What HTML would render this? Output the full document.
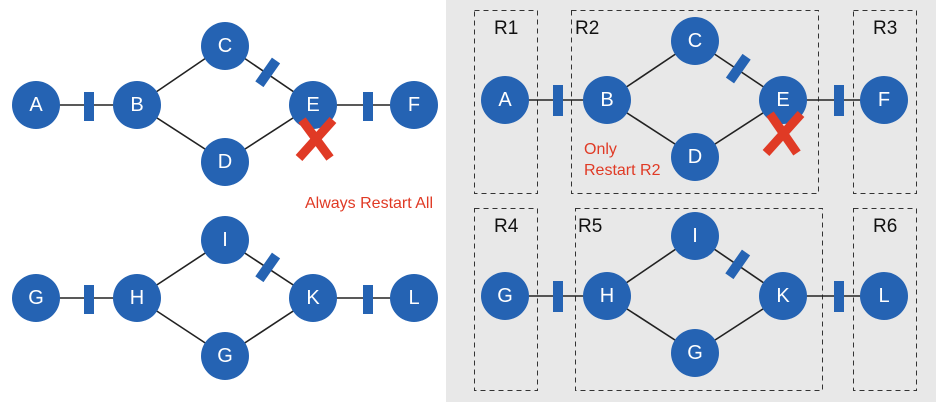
<!DOCTYPE html>
<html><head><meta charset="utf-8"><style>
html,body{margin:0;padding:0;background:#fff}
svg{display:block}
text{font-family:"Liberation Sans",sans-serif}
.n{fill:#2563b3}
.t{fill:#fff;font-size:20px;text-anchor:middle;dominant-baseline:central}
.l{stroke:#222;stroke-width:1.6}
.b{fill:#2563b3}
.box{fill:none;stroke:#333;stroke-width:1;stroke-dasharray:5,4}
.r{font-size:19px;fill:#111}
.red{fill:#e03a25;font-size:16px}
</style></head><body>
<svg width="936" height="402" viewBox="0 0 936 402">
<rect x="446" y="0" width="490" height="402" fill="#e8e8e8"/>

<!-- left top -->
<g>
<line class="l" x1="36" y1="105" x2="137" y2="105"/>
<line class="l" x1="313" y1="105" x2="414" y2="105"/>
<line class="l" x1="137" y1="105" x2="225" y2="45"/>
<line class="l" x1="225" y1="45" x2="313" y2="105"/>
<line class="l" x1="137" y1="105" x2="225" y2="162"/>
<line class="l" x1="225" y1="162" x2="313" y2="105"/>
<rect class="b" x="84" y="92" width="10" height="29"/>
<rect class="b" x="363" y="92" width="10" height="29"/>
<rect class="b" x="263" y="58" width="10" height="29" transform="rotate(35 268 72)"/>
<circle class="n" cx="36" cy="105" r="24"/><text class="t" x="36" y="105">A</text>
<circle class="n" cx="137" cy="105" r="24"/><text class="t" x="137" y="105">B</text>
<circle class="n" cx="225" cy="46" r="24"/><text class="t" x="225" y="46">C</text>
<circle class="n" cx="225" cy="162" r="24"/><text class="t" x="225" y="162">D</text>
<circle class="n" cx="313" cy="105" r="24"/><text class="t" x="313" y="105">E</text>
<circle class="n" cx="414" cy="105" r="24"/><text class="t" x="414" y="105">F</text>
<path d="M302 120 L330 158 M333 120 L299 158" stroke="#e03a25" stroke-width="9"/>
<text class="red" x="305" y="208">Always Restart All</text>
</g>

<!-- left bottom -->
<g>
<line class="l" x1="36" y1="298" x2="137" y2="298"/>
<line class="l" x1="313" y1="298" x2="414" y2="298"/>
<line class="l" x1="137" y1="298" x2="225" y2="240"/>
<line class="l" x1="225" y1="240" x2="313" y2="298"/>
<line class="l" x1="137" y1="298" x2="225" y2="356"/>
<line class="l" x1="225" y1="356" x2="313" y2="298"/>
<rect class="b" x="84" y="285" width="10" height="29"/>
<rect class="b" x="363" y="285" width="10" height="29"/>
<rect class="b" x="263" y="253" width="10" height="29" transform="rotate(35 268 267)"/>
<circle class="n" cx="36" cy="298" r="24"/><text class="t" x="36" y="298">G</text>
<circle class="n" cx="137" cy="298" r="24"/><text class="t" x="137" y="298">H</text>
<circle class="n" cx="225" cy="240" r="24"/><text class="t" x="225" y="240">I</text>
<circle class="n" cx="225" cy="356" r="24"/><text class="t" x="225" y="356">G</text>
<circle class="n" cx="313" cy="298" r="24"/><text class="t" x="313" y="298">K</text>
<circle class="n" cx="414" cy="298" r="24"/><text class="t" x="414" y="298">L</text>
</g>

<!-- right top -->
<g>
<rect class="box" x="474.5" y="10.5" width="63" height="183"/>
<rect class="box" x="571.5" y="10.5" width="247" height="183"/>
<rect class="box" x="853.5" y="10.5" width="63" height="183"/>
<text class="r" x="494" y="34">R1</text>
<text class="r" x="575" y="34">R2</text>
<text class="r" x="873" y="34">R3</text>
<line class="l" x1="505" y1="100" x2="607" y2="100"/>
<line class="l" x1="783" y1="100" x2="884" y2="100"/>
<line class="l" x1="607" y1="100" x2="695" y2="41"/>
<line class="l" x1="695" y1="41" x2="783" y2="100"/>
<line class="l" x1="607" y1="100" x2="695" y2="157"/>
<line class="l" x1="695" y1="157" x2="783" y2="100"/>
<rect class="b" x="553" y="85" width="10" height="31"/>
<rect class="b" x="834" y="85" width="10" height="31"/>
<rect class="b" x="733" y="54" width="10" height="29" transform="rotate(35 738 69)"/>
<circle class="n" cx="505" cy="100" r="24"/><text class="t" x="505" y="100">A</text>
<circle class="n" cx="607" cy="100" r="24"/><text class="t" x="607" y="100">B</text>
<circle class="n" cx="695" cy="41" r="24"/><text class="t" x="695" y="41">C</text>
<circle class="n" cx="695" cy="157" r="24"/><text class="t" x="695" y="157">D</text>
<circle class="n" cx="783" cy="100" r="24"/><text class="t" x="783" y="100">E</text>
<circle class="n" cx="884" cy="100" r="24"/><text class="t" x="884" y="100">F</text>
<path d="M770 114 L797 153 M801 114 L766 153" stroke="#e03a25" stroke-width="9"/>
<text class="red" x="584" y="154">Only</text>
<text class="red" x="584" y="175">Restart R2</text>
</g>

<!-- right bottom -->
<g>
<rect class="box" x="474.5" y="208.5" width="63" height="182"/>
<rect class="box" x="575.5" y="208.5" width="247" height="182"/>
<rect class="box" x="853.5" y="208.5" width="63" height="182"/>
<text class="r" x="494" y="232">R4</text>
<text class="r" x="578" y="232">R5</text>
<text class="r" x="873" y="232">R6</text>
<line class="l" x1="505" y1="296" x2="607" y2="296"/>
<line class="l" x1="783" y1="296" x2="884" y2="296"/>
<line class="l" x1="607" y1="296" x2="695" y2="236"/>
<line class="l" x1="695" y1="236" x2="783" y2="296" stroke="#666"/>
<line class="l" x1="607" y1="296" x2="695" y2="353"/>
<line class="l" x1="695" y1="353" x2="783" y2="296"/>
<rect class="b" x="553" y="281" width="10" height="31"/>
<rect class="b" x="834" y="281" width="10" height="31"/>
<rect class="b" x="733" y="250" width="10" height="29" transform="rotate(35 738 264)"/>
<circle class="n" cx="505" cy="296" r="24"/><text class="t" x="505" y="296">G</text>
<circle class="n" cx="607" cy="296" r="24"/><text class="t" x="607" y="296">H</text>
<circle class="n" cx="695" cy="236" r="24"/><text class="t" x="695" y="236">I</text>
<circle class="n" cx="695" cy="353" r="24"/><text class="t" x="695" y="353">G</text>
<circle class="n" cx="783" cy="296" r="24"/><text class="t" x="783" y="296">K</text>
<circle class="n" cx="884" cy="296" r="24"/><text class="t" x="884" y="296">L</text>
</g>
</svg>
</body></html>
